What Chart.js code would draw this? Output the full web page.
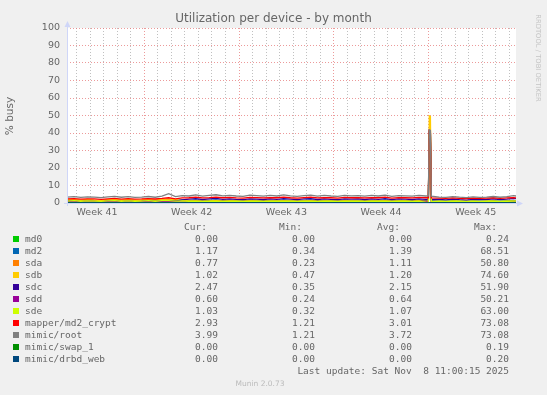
<!DOCTYPE html>
<html><head><meta charset="utf-8">
<script src="https://cdn.jsdelivr.net/npm/chart.js@4.4.1/dist/chart.umd.min.js"></script>
<style>
html,body{margin:0;padding:0;background:#F0F0F0;}
#wrap{position:relative;width:547px;height:395px;overflow:hidden;background:#F0F0F0;}
canvas{position:absolute;left:0;top:0;}
.lg{position:absolute;font-family:"DejaVu Sans Mono",monospace;font-size:9.5px;color:#666;white-space:pre;line-height:12px;height:12px;}
.sw{position:absolute;width:6px;height:6px;}
.wm{position:absolute;font-family:"DejaVu Sans",sans-serif;font-size:7.5px;color:#bbb;white-space:pre;}
</style></head><body>
<div id="wrap"><canvas id="c" width="547" height="395"></canvas></div>
<script>
// time in days since Mon 6 Oct 2025 00:00
const times = [1.3,1.8,2.3,2.8,3.3,3.8,4.3,4.8,5.3,5.8,6.3,6.8,7.3,7.8,8.3,8.8,9.3,9.8,10.3,10.8,11.3,11.8,12.3,12.8,13.3,13.8,14.3,14.8,15.3,15.8,16.3,16.8,17.3,17.8,18.3,18.8,19.3,19.8,20.3,20.8,21.3,21.8,22.3,22.8,23.3,23.8,24.3,24.8,25.3,25.8,26.3,26.8,27.3,27.8,28.0,28.07,28.15,28.22,28.8,29.3,29.8,30.3,30.8,31.3,31.8,32.3,32.8,33.3,33.8,34.3,34.48];

const seriesNames = ['md0','md2','sda','sdb','sdc','sdd','sde','mapper/md2_crypt','mimic/root','mimic/swap_1','mimic/drbd_web'];
const seriesColors = ['#00CC00','#0066B3','#FF8000','#FFCC00','#330099','#990099','#CCFF00','#FF0000','#808080','#008F00','#00487D'];

const md0 = [0,0,0,0,0,0,0,0,0,0,0,0,0,0,0,0,0,0,0,0,0,0,0,0,0,0,0,0,0,0,0,0,0,0,0,0,0,0,0,0,0,0,0,0,0,0,0,0,0,0,0,0,0,0,0,0.24,0.2,0,0,0,0,0,0,0,0,0,0,0,0,0,0];
const md2 = [1.5,1.8,1.3,1.6,1.4,1.2,1.7,1.9,1.3,1.6,1.3,1.5,1.8,1.4,1.9,2.0,1.5,1.7,
  1.4,1.7,1.2,1.5,1.8,1.3,1.6,1.4,1.2,1.6,1.5,1.3,1.5,1.4,1.7,1.4,1.2,1.5,1.7,1.3,1.5,1.4,1.2,1.6,1.4,1.5,1.3,1.5,1.4,1.7,1.2,1.5,1.4,1.3,1.6,1.4,
  1.4,41.0,40.0,1.3,
  1.2,1.0,1.3,1.1,0.9,1.2,1.0,1.1,1.4,1.0,1.3,1.5,1.17];
const sda = [1.6,1.9,1.4,1.7,1.5,1.3,1.8,2.0,1.4,1.7,1.4,1.6,1.9,1.5,2.0,1.8,1.6,1.4,
  1.1,1.2,1.0,1.1,1.3,1.0,1.2,1.1,1.0,1.2,1.1,1.0,1.1,1.1,1.2,1.1,1.0,1.1,1.2,1.0,1.1,1.1,1.0,1.2,1.1,1.1,1.0,1.1,1.1,1.2,1.0,1.1,1.1,1.0,1.2,1.1,
  1.0,40.2,39.5,0.9,
  0.8,0.7,0.9,0.8,0.7,0.8,0.7,0.8,0.9,0.7,0.8,0.9,0.77];
const sdb = [1.8,2.1,1.6,2.0,1.7,1.5,1.9,2.2,1.6,2.0,1.7,1.8,2.1,1.7,2.2,2.2,1.9,1.4,
  1.0,1.1,0.9,1.0,1.2,0.9,1.1,1.0,0.9,1.1,1.0,0.9,1.0,1.0,1.1,1.0,0.9,1.0,1.1,0.9,1.0,1.0,0.9,1.1,1.0,1.0,0.9,1.0,1.0,1.1,0.9,1.0,1.0,0.9,1.1,0.5,
  0.3,49.8,49.5,0.9,
  1.0,0.9,1.1,1.0,0.9,1.0,0.9,1.0,1.1,0.9,1.0,1.1,1.02];
const sdc = [0.9,1.1,0.8,1.0,0.9,0.7,1.0,1.2,0.8,1.1,0.8,0.9,1.1,0.9,1.2,1.3,1.0,1.8,
  2.2,2.5,2.0,2.3,2.6,2.1,2.4,2.1,1.9,2.4,2.2,2.0,2.3,2.1,2.5,2.2,1.9,2.3,2.5,2.0,2.3,2.1,1.9,2.4,2.2,2.3,2.0,2.3,2.1,2.5,1.9,2.3,2.2,2.0,2.4,2.1,
  2.1,40.6,40.0,2.0,
  2.0,1.8,2.2,1.9,1.7,2.1,1.9,2.0,2.3,1.9,2.2,2.6,2.47];
const sdd = [0.7,0.9,0.6,0.8,0.7,0.5,0.8,0.9,0.6,0.8,0.6,0.7,0.9,0.6,0.9,0.9,0.7,0.6,
  0.5,0.6,0.4,0.5,0.7,0.4,0.6,0.5,0.4,0.6,0.5,0.4,0.5,0.5,0.6,0.5,0.4,0.5,0.6,0.4,0.5,0.5,0.4,0.6,0.5,0.5,0.4,0.5,0.5,0.6,0.4,0.5,0.5,0.4,0.6,0.5,
  0.5,36.0,35.0,0.4,
  0.5,0.4,0.6,0.5,0.4,0.5,0.4,0.5,0.6,0.4,0.5,0.6,0.60];
const sde = [1.1,1.3,1.0,1.2,1.1,0.9,1.2,1.4,1.0,1.2,1.0,1.1,1.3,1.0,1.4,1.4,1.1,1.2,
  1.0,1.1,0.9,1.0,1.1,0.9,1.0,1.0,0.9,1.1,1.0,0.9,1.0,1.0,1.1,1.0,0.9,1.0,1.1,0.9,1.0,1.0,0.9,1.1,1.0,1.0,0.9,1.0,1.0,1.1,0.9,1.0,1.0,0.9,1.0,0.4,
  0.2,38.5,38.0,0.8,
  1.0,0.9,1.1,1.0,0.9,1.0,0.9,1.0,1.1,0.9,1.0,1.1,1.03];
const mapper = [2.3,2.5,2.2,2.4,2.3,2.1,2.4,2.6,2.2,2.5,2.2,2.3,2.5,2.3,2.6,3.0,2.4,2.9,
  3.0,3.3,2.9,3.1,3.4,3.0,3.2,2.9,2.8,3.2,3.1,2.9,3.1,3.0,3.3,3.0,2.8,3.1,3.3,2.9,3.1,3.0,2.8,3.2,3.0,3.1,2.9,3.1,3.0,3.3,2.8,3.1,3.0,2.9,3.2,3.0,
  3.0,41.5,41.0,2.9,
  2.8,2.6,2.9,2.7,2.5,2.8,2.6,2.8,3.0,2.7,2.9,3.1,2.93];
const root = [3.3,3.6,3.2,3.5,3.4,3.1,3.5,3.8,3.3,3.6,3.2,3.4,3.7,3.3,3.9,5.3,3.6,4.2,
  4.0,4.6,3.9,4.3,4.7,4.1,4.4,4.0,3.8,4.5,4.2,3.9,4.3,4.0,4.6,4.1,3.8,4.2,4.5,3.9,4.3,4.0,3.8,4.4,4.1,4.2,3.9,4.3,4.0,4.5,3.8,4.2,4.1,3.9,4.3,4.0,
  4.1,41.8,41.5,3.9,
  3.4,3.2,3.6,3.3,3.1,3.5,3.2,3.4,3.7,3.3,3.6,4.2,3.99];
const swap1 = [0,0,0,0,0,0,0,0,0,0,0,0,0,0,0,0,0,0,0,0,0,0,0,0,0,0,0,0,0,0,0,0,0,0,0,0,0,0,0,0,0,0,0,0,0,0,0,0,0,0,0,0,0,0,0,0.19,0.1,0,0,0,0,0,0,0,0,0,0,0,0,0,0];
const drbdWeb = [0,0,0,0,0,0,0,0,0,0,0,0,0,0,0,0,0,0,0,0,0,0,0,0,0,0,0,0,0,0,0,0,0,0,0,0,0,0,0,0,0,0,0,0,0,0,0,0,0,0,0,0,0,0,0,0.20,0.1,0,0,0,0,0,0,0,0,0,0,0,0,0,0];
const seriesValues = [md0, md2, sda, sdb, sdc, sdd, sde, mapper, root, swap1, drbdWeb];

const curVals = ['0.00','1.17','0.77','1.02','2.47','0.60','1.03','2.93','3.99','0.00','0.00'];
const minVals = ['0.00','0.34','0.23','0.47','0.35','0.24','0.32','1.21','1.21','0.00','0.00'];
const avgVals = ['0.00','1.39','1.11','1.20','2.15','0.64','1.07','3.01','3.72','0.00','0.00'];
const maxVals = ['0.24','68.51','50.80','74.60','51.90','50.21','63.00','73.08','73.08','0.19','0.20'];

const yTickValues = [0,5,10,15,20,25,30,35,40,45,50,55,60,65,70,75,80,85,90,95,100];
const weekLabels = ['Week 41','Week 42','Week 43','Week 44','Week 45'];
const weekCenters = [3.5,10.5,17.5,24.5,31.5];
const weekStarts = [7,14,21,28];
const dayLines = [2,3,4,5,6,7,8,9,10,11,12,13,14,15,16,17,18,19,20,21,22,23,24,25,26,27,28,29,30,31,32,33,34];
const xMin = 1.28, xMax = 34.48;

const titleText = 'Utilization per device - by month';
const yTitle = '% busy';
const sideText = 'RRDTOOL / TOBI OETIKER';
const lastUpdate = 'Last update: Sat Nov  8 11:00:15 2025';
const watermark = 'Munin 2.0.73';

const FONT = '#666666';
const MAJOR = 'rgba(230,120,120,0.75)';
const MINOR = 'rgba(150,150,150,0.6)';
const AXIS = '#CFD6F8';

const decor = {
  id: 'decor',
  beforeDraw(chart) {
    const {ctx, chartArea: a} = chart;
    ctx.save();
    ctx.fillStyle = '#F0F0F0';
    ctx.fillRect(0, 0, chart.width, chart.height);
    ctx.fillStyle = '#FFFFFF';
    ctx.fillRect(a.left, a.top, a.right - a.left, a.bottom - a.top);
    ctx.restore();
  },
  afterDatasetsDraw(chart) {
    const {ctx, chartArea: a} = chart;
    ctx.save();
    ctx.strokeStyle = AXIS; ctx.fillStyle = AXIS; ctx.lineWidth = 1;
    ctx.beginPath();
    ctx.moveTo(a.left - 3, a.bottom + 0.5); ctx.lineTo(a.right + 2, a.bottom + 0.5);
    ctx.moveTo(a.left + 0.5, a.bottom + 3); ctx.lineTo(a.left + 0.5, a.top - 2);
    ctx.stroke();
    ctx.beginPath();
    ctx.moveTo(a.left + 0.5, a.top - 7); ctx.lineTo(a.left - 2.5, a.top - 1); ctx.lineTo(a.left + 3.5, a.top - 1); ctx.closePath(); ctx.fill();
    ctx.beginPath();
    ctx.moveTo(a.right + 7, a.bottom + 0.5); ctx.lineTo(a.right + 1, a.bottom - 2.5); ctx.lineTo(a.right + 1, a.bottom + 3.5); ctx.closePath(); ctx.fill();
    ctx.restore();
  },
  afterDraw(chart) {
    const {ctx} = chart;
    ctx.save();
    ctx.fillStyle = FONT;
    ctx.textAlign = 'center'; ctx.textBaseline = 'middle';
    ctx.font = '12px "DejaVu Sans"';
    ctx.fillText(titleText, 273.5, 19);
    ctx.save();
    ctx.translate(10.5, 116); ctx.rotate(-Math.PI / 2);
    ctx.font = '10.5px "DejaVu Sans"';
    ctx.fillText(yTitle, 0, 0);
    ctx.restore();
    ctx.save();
    ctx.translate(537.5, 58); ctx.rotate(Math.PI / 2);
    ctx.font = '6.8px "DejaVu Sans"';
    ctx.fillStyle = '#C4C4C4';
    ctx.fillText(sideText, 0, 0);
    ctx.restore();
    ctx.restore();
  }
};

const datasets = seriesValues.map((vals, i) => ({
  label: seriesNames[i],
  data: times.map((t, j) => ({x: t, y: vals[j]})),
  borderColor: seriesColors[i],
  backgroundColor: seriesColors[i],
  borderWidth: 1.3,
  pointRadius: 0,
  tension: 0,
  fill: false,
  order: seriesNames.length - i
}));

new Chart(document.getElementById('c'), {
  type: 'line',
  data: {datasets},
  plugins: [decor],
  options: {
    responsive: false,
    devicePixelRatio: 1,
    animation: false,
    events: [],
    layout: {padding: {top: 28, right: 31, bottom: 0, left: 0}},
    plugins: {legend: {display: false}, title: {display: false}, tooltip: {enabled: false}},
    scales: {
      x: {
        type: 'linear', min: xMin, max: xMax,
        afterBuildTicks(s) { s.ticks = dayLines.concat(weekCenters).sort((p, q) => p - q).map(v => ({value: v})); },
        afterFit(s) { s.height = 192; },
        ticks: {
          autoSkip: false, maxRotation: 0, minRotation: 0, padding: 4, color: FONT,
          font: {family: 'DejaVu Sans', size: 9.5},
          callback(v) { const k = weekCenters.indexOf(v); return k >= 0 ? weekLabels[k] : ''; }
        },
        grid: {
          drawTicks: false, lineWidth: 1,
          color(ctx) {
            const v = ctx.tick ? ctx.tick.value : null;
            if (weekCenters.includes(v)) return 'rgba(0,0,0,0)';
            if (weekStarts.includes(v)) return MAJOR;
            return MINOR;
          }
        },
        border: {display: false, dash: [1, 2]}
      },
      y: {
        min: 0, max: 100,
        afterBuildTicks(s) { s.ticks = yTickValues.map(v => ({value: v})); },
        afterFit(s) { s.width = 67; },
        ticks: {
          padding: 7, color: FONT, font: {family: 'DejaVu Sans', size: 9.5},
          callback(v) { return v % 10 === 0 ? String(v) : ''; }
        },
        grid: {
          drawTicks: false, lineWidth: 1,
          color(ctx) {
            const v = ctx.tick ? ctx.tick.value : null;
            if (v === 0) return 'rgba(0,0,0,0)';
            return v % 10 === 0 ? MAJOR : MINOR;
          }
        },
        border: {display: false, dash: [1, 2]}
      }
    }
  }
});

// legend (text table under the graph)
const wrap = document.getElementById('wrap');
function addText(txt, cls, styles) {
  const d = document.createElement('div');
  d.className = cls; d.textContent = txt;
  Object.assign(d.style, styles);
  wrap.appendChild(d);
  return d;
}
const colRights = [218, 315, 412, 509];
const headRights = [207, 302, 400, 497];
const headers = ['Cur:', 'Min:', 'Avg:', 'Max:'];
headers.forEach((h, k) => addText(h, 'lg', {right: (547 - headRights[k]) + 'px', top: (227 - 6) + 'px'}));
seriesNames.forEach((name, i) => {
  const yc = 239 + 12 * i;
  const sw = document.createElement('div');
  sw.className = 'sw';
  Object.assign(sw.style, {left: '13px', top: (yc - 3) + 'px', background: seriesColors[i]});
  wrap.appendChild(sw);
  addText(name, 'lg', {left: '25px', top: (yc - 6) + 'px'});
  [curVals, minVals, avgVals, maxVals].forEach((arr, k) => {
    addText(arr[i], 'lg', {right: (547 - colRights[k]) + 'px', top: (yc - 6) + 'px'});
  });
});
addText(lastUpdate, 'lg', {right: (547 - 509) + 'px', top: (371 - 6) + 'px'});
addText(watermark, 'wm', {left: '0px', width: '520px', textAlign: 'center', top: (384 - 5) + 'px'});
</script>
</body></html>
